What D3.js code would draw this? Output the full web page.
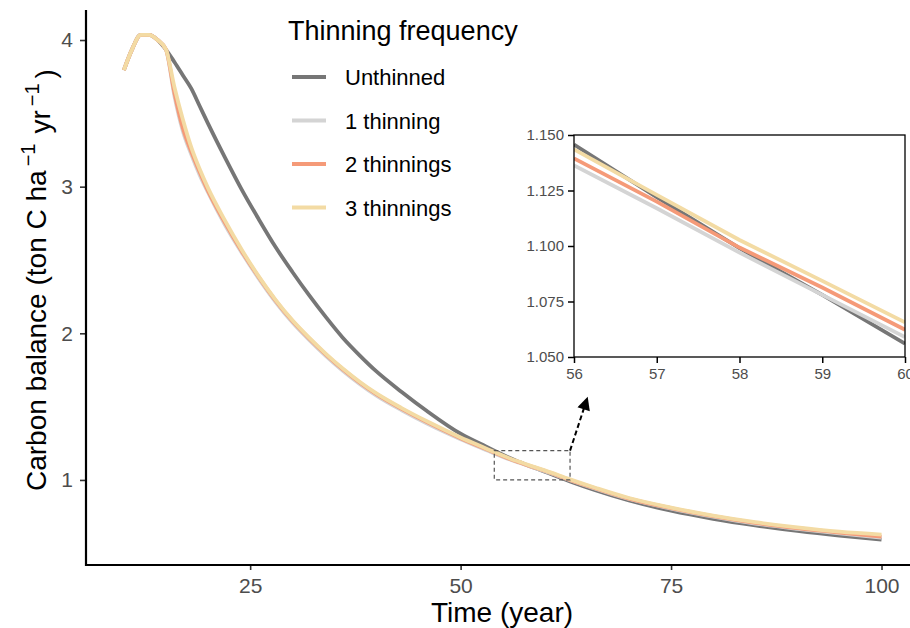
<!DOCTYPE html>
<html>
<head>
<meta charset="utf-8">
<script src="https://cdn.jsdelivr.net/npm/d3@7"></script>
<style>
  body { margin: 0; background: #fff; }
  text { font-family: "Liberation Sans", Arial, sans-serif; }
</style>
</head>
<body>
<div id="chart"></div>
<script>
// years (annual where the curves bend or in the inset window)
var years = [10,11,12,13,14,15,16,17,18,19,20,22,24,26,28,30,32,34,36,38,40,43,46,50,53,54,56,57,58,59,60,63,66,70,75,80,85,90,95,100];

var unthinned = [3.795,3.94,4.035,4.035,4.0,3.935,3.85,3.76,3.67,3.55,3.43,3.20,2.98,2.78,2.59,2.42,2.26,2.11,1.97,1.85,1.74,1.60,1.47,1.315,1.228,1.20,1.1457,1.122,1.099,1.078,1.056,0.99,0.93,0.86,0.79,0.735,0.69,0.652,0.62,0.593];
var thin1 = [3.795,3.94,4.035,4.035,4.0,3.935,3.62,3.38,3.22,3.08,2.96,2.74,2.55,2.375,2.215,2.075,1.955,1.845,1.745,1.655,1.575,1.475,1.385,1.278,1.205,1.181,1.1363,1.117,1.097,1.078,1.059,0.998,0.94,0.87,0.805,0.75,0.703,0.667,0.636,0.607];
var thin2 = [3.795,3.94,4.035,4.035,4.0,3.935,3.64,3.40,3.24,3.10,2.97,2.755,2.56,2.385,2.225,2.085,1.965,1.855,1.755,1.665,1.585,1.485,1.395,1.285,1.211,1.187,1.1395,1.120,1.0993,1.0813,1.0623,1.0,0.943,0.873,0.808,0.753,0.707,0.671,0.641,0.614];
var thin3 = [3.795,3.94,4.035,4.035,4.0,3.935,3.68,3.46,3.27,3.12,2.99,2.77,2.57,2.39,2.23,2.09,1.97,1.86,1.76,1.67,1.59,1.49,1.40,1.29,1.215,1.19,1.1435,1.123,1.1027,1.0843,1.0656,1.004,0.947,0.877,0.812,0.757,0.712,0.676,0.647,0.627];

var seriesNames = ["Unthinned", "1 thinning", "2 thinnings", "3 thinnings"];
var seriesColors = ["#767676", "#d4d4d4", "#f59a78", "#f3dba4"];
var seriesValues = [unthinned, thin1, thin2, thin3];

var xTicks = [25, 50, 75, 100];
var yTicks = [1, 2, 3, 4];
var insetXTicks = [56, 57, 58, 59, 60];
var insetYTicks = [1.05, 1.075, 1.1, 1.125, 1.15];

// zoom box drawn on the main panel, in data units
var zoomBox = {x0: 54, x1: 63, y0: 1.0, y1: 1.2};
var arrowTip = {x: 65, y: 1.55};

var W = 910, H = 628;

var svg = d3.select("#chart")
			.append("svg")
			.attr("width", W)
			.attr("height", H)
			.style("background", "#fff");

var defs = svg.append("defs");
defs.append("marker")
	.attr("id", "arrowhead")
	.attr("viewBox", "0 0 10 10")
	.attr("refX", 8)
	.attr("refY", 5)
	.attr("markerWidth", 7)
	.attr("markerHeight", 6.5)
	.attr("markerUnits", "strokeWidth")
	.attr("orient", "auto")
  .append("path")
	.attr("d", "M0,0 L10,5 L0,10 z")
	.attr("fill", "#000");

var data = seriesNames.map(function(name, i) {
	return {
		name: name,
		color: seriesColors[i],
		values: years.map(function(t, j) { return {t: t, v: seriesValues[i][j]}; })
	};
});

// main scales
var xScale = d3.scaleLinear().domain([5.5, 104.5]).range([86, 919.4]);
var yScale = d3.scaleLinear().domain([0.42, 4.2]).range([565, 10.7]);

var line = d3.line()
			 .curve(d3.curveMonotoneX)
			 .x(function(d) { return xScale(d.t); })
			 .y(function(d) { return yScale(d.v); });

defs.append("clipPath")
	.attr("id", "clip")
  .append("rect")
	.attr("x", 86).attr("y", 0)
	.attr("width", W - 86).attr("height", 565);

var body = svg.append("g").attr("clip-path", "url(#clip)");

body.selectAll("path.series")
	.data(data)
	.enter()
	.append("path")
	.attr("class", "series")
	.attr("d", function(d) { return line(d.values); })
	.attr("fill", "none")
	.attr("stroke", function(d) { return d.color; })
	.attr("stroke-width", 3.8)
	.attr("stroke-linejoin", "round")
	.attr("stroke-linecap", "butt");

// axes
var xAxis = d3.axisBottom(xScale).tickValues(xTicks).tickSize(5).tickPadding(8);
var yAxis = d3.axisLeft(yScale).tickValues(yTicks).tickFormat(d3.format("d")).tickSize(6).tickPadding(7);

var gX = svg.append("g").attr("transform", "translate(0,565)").call(xAxis);
var gY = svg.append("g").attr("transform", "translate(86,0)").call(yAxis);

[gX, gY].forEach(function(g) {
	g.select(".domain").remove();
	g.selectAll(".tick line").attr("stroke", "#333").attr("stroke-width", 1.6);
	g.selectAll(".tick text")
	 .attr("fill", "#4d4d4d")
	 .style("font-size", "21px");
});

// axis lines (theme_classic look)
svg.append("line")
	.attr("x1", 85).attr("x2", W)
	.attr("y1", 565).attr("y2", 565)
	.attr("stroke", "#000").attr("stroke-width", 2.2);
svg.append("line")
	.attr("x1", 86).attr("x2", 86)
	.attr("y1", 10).attr("y2", 566)
	.attr("stroke", "#000").attr("stroke-width", 2.2);

// axis titles
svg.append("text")
	.attr("x", 502)
	.attr("y", 622)
	.attr("text-anchor", "middle")
	.style("font-size", "28px")
	.attr("fill", "#000")
	.text("Time (year)");

var yTitle = svg.append("text")
	.attr("transform", "translate(46,491) rotate(-90)")
	.attr("text-anchor", "start")
	.style("font-size", "28px")
	.attr("fill", "#000");
yTitle.append("tspan").text("Carbon balance (ton C ha");
yTitle.append("tspan").attr("dy", "-0.55em").attr("dx", "4").style("font-size", "20px").text("\u22121");
yTitle.append("tspan").attr("dy", "0.55em").attr("dx", "10").text("yr");
yTitle.append("tspan").attr("dy", "-0.55em").attr("dx", "4").style("font-size", "20px").text("\u22121");
yTitle.append("tspan").attr("dy", "0.55em").attr("dx", "5").text(")");

// legend
var legend = svg.append("g");
legend.append("text")
	.attr("x", 288)
	.attr("y", 40)
	.style("font-size", "27px")
	.attr("fill", "#000")
	.text("Thinning frequency");

var item = legend.selectAll("g.item")
	.data(data)
	.enter()
	.append("g")
	.attr("class", "item")
	.attr("transform", function(d, i) { return "translate(0," + (77 + i * 43.5) + ")"; });

item.append("line")
	.attr("x1", 292).attr("x2", 326)
	.attr("stroke", function(d) { return d.color; })
	.attr("stroke-width", 4);

item.append("text")
	.attr("x", 345)
	.attr("y", 8)
	.style("font-size", "22px")
	.attr("fill", "#000")
	.text(function(d) { return d.name; });

// dashed zoom box and arrow
svg.append("rect")
	.attr("x", xScale(zoomBox.x0))
	.attr("y", yScale(zoomBox.y1))
	.attr("width", xScale(zoomBox.x1) - xScale(zoomBox.x0))
	.attr("height", yScale(zoomBox.y0) - yScale(zoomBox.y1))
	.attr("fill", "none")
	.attr("stroke", "#555")
	.attr("stroke-width", 1.2)
	.attr("stroke-dasharray", "4,3");

svg.append("line")
	.attr("x1", xScale(zoomBox.x1))
	.attr("y1", yScale(zoomBox.y1))
	.attr("x2", xScale(arrowTip.x))
	.attr("y2", yScale(arrowTip.y))
	.attr("stroke", "#000")
	.attr("stroke-width", 2)
	.attr("stroke-dasharray", "5,3")
	.attr("marker-end", "url(#arrowhead)");

// inset panel
var ix = d3.scaleLinear().domain([56, 60]).range([574, 905]);
var iy = d3.scaleLinear().domain([1.05, 1.15]).range([357, 135]);

var inset = svg.append("g");
inset.append("rect")
	.attr("x", 574).attr("y", 135)
	.attr("width", 905 - 574).attr("height", 357 - 135)
	.attr("fill", "#fff");

defs.append("clipPath")
	.attr("id", "insetClip")
  .append("rect")
	.attr("x", 574).attr("y", 135)
	.attr("width", 905 - 574).attr("height", 357 - 135);

var iline = d3.line()
			  .x(function(d) { return ix(d.t); })
			  .y(function(d) { return iy(d.v); });

inset.append("g")
	.attr("clip-path", "url(#insetClip)")
	.selectAll("path")
	.data(data)
	.enter()
	.append("path")
	.attr("d", function(d) {
		return iline(d.values.filter(function(p) { return p.t >= 56 && p.t <= 60; }));
	})
	.attr("fill", "none")
	.attr("stroke", function(d) { return d.color; })
	.attr("stroke-width", 3.8);

inset.append("rect")
	.attr("x", 574).attr("y", 135)
	.attr("width", 905 - 574).attr("height", 357 - 135)
	.attr("fill", "none")
	.attr("stroke", "#000")
	.attr("stroke-width", 1.3);

var igX = inset.append("g").attr("transform", "translate(0,357)")
	.call(d3.axisBottom(ix).tickValues(insetXTicks).tickFormat(d3.format("d")).tickSize(6).tickPadding(5));
var igY = inset.append("g").attr("transform", "translate(574,0)")
	.call(d3.axisLeft(iy).tickValues(insetYTicks).tickFormat(d3.format(".3f")).tickSize(6).tickPadding(4));

[igX, igY].forEach(function(g) {
	g.select(".domain").remove();
	g.selectAll(".tick line").attr("stroke", "#000").attr("stroke-width", 1.5);
	g.selectAll(".tick text")
	 .attr("fill", "#4d4d4d")
	 .style("font-size", "15px");
});
</script>
</body>
</html>
